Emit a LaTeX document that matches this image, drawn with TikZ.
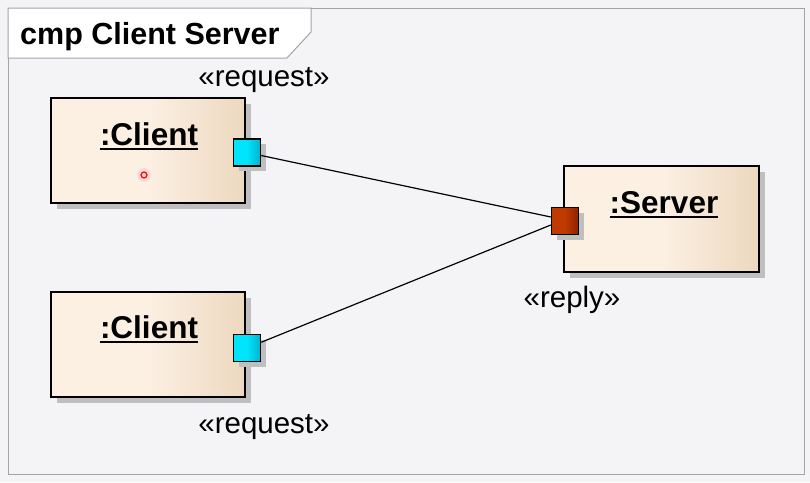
\documentclass[tikz,border=0pt]{standalone}
\usepackage{fontspec}
\setmainfont{Liberation Sans}
\usetikzlibrary{shadows}
\definecolor{bglight}{HTML}{F4F4F6}
\definecolor{framegray}{HTML}{A4A4A8}
\definecolor{boxlight}{HTML}{FCF0E3}
\definecolor{boxdark}{HTML}{EDD8BF}
\definecolor{portcyan}{HTML}{00E4FC}
\definecolor{portcyandark}{HTML}{00B4CC}
\definecolor{portbrown}{HTML}{C03A00}
\definecolor{portbrowndark}{HTML}{8C2200}

\begin{document}
\begin{tikzpicture}[x=1pt,y=-1pt,
    objbox/.style={draw=black,line width=1.6pt,inner sep=0pt,
      shading=axis,left color=boxlight,right color=boxdark,middle color=boxlight,
      general shadow={fill=black!25,shadow xshift=6pt,shadow yshift=-6pt}},
    objlabel/.style={inner sep=0pt,font=\fontsize{31.5}{35}\selectfont\bfseries},
    uline/.style={line width=1.8pt},
    port/.style={draw=black,line width=1.4pt,inner sep=0pt,minimum size=27pt,
      general shadow={fill=black!25,shadow xshift=5pt,shadow yshift=-5pt}},
    stereo/.style={inner sep=0pt,font=\fontsize{29.5}{33}\selectfont},
    link/.style={line width=1.2pt}]
      \fill[bglight] (0,0) rectangle (810,482);
      \useasboundingbox (0,0) rectangle (810,482);
      % frame and title tab
      \draw[framegray,line width=1pt] (8,8) rectangle (804,474);
      \draw[framegray,line width=1pt,fill=white] (8,8) -- (311,8) -- (311,32) -- (287,58) -- (8,58) -- cycle;
      \node[inner sep=0pt,anchor=base west,font=\fontsize{30.5}{34}\selectfont\bfseries] (title) at (20,44) {cmp Client Server};
      % parts
      \node[objbox,minimum width=194pt,minimum height=105pt] (clientA) at (148,150.5) {};
      \node[objbox,minimum width=194pt,minimum height=105pt] (clientB) at (148,344.5) {};
      \node[objbox,minimum width=195pt,minimum height=106pt] (server) at (661.5,219) {};
      \node[objlabel,anchor=base] (clientAlbl) at (149,145) {:Client};
      \node[objlabel,anchor=base] (clientBlbl) at (149,338) {:Client};
      \node[objlabel,anchor=base] (serverlbl) at (664,213) {:Server};
      \draw[uline] ([yshift=-3.5pt]clientAlbl.south west) -- ([yshift=-3.5pt]clientAlbl.south east);
      \draw[uline] ([yshift=-3.5pt]clientBlbl.south west) -- ([yshift=-3.5pt]clientBlbl.south east);
      \draw[uline] ([yshift=-3.5pt]serverlbl.south west) -- ([yshift=-3.5pt]serverlbl.south east);
      % ports
      \node[port,shading=axis,left color=portcyan,right color=portcyandark,middle color=portcyan] (reqA) at (247,152.5) {};
      \node[port,shading=axis,left color=portcyan,right color=portcyandark,middle color=portcyan] (reqB) at (247,348) {};
      \node[port,shading=axis,left color=portbrown,right color=portbrowndark,middle color=portbrown] (rep) at (565,221) {};
      \draw[link] (reqA) -- ([yshift=4pt]rep.west);
      \draw[link] (reqB) -- ([yshift=-4pt]rep.west);
      % stereotypes
      \node[stereo] (reqAst) at (264,80) {«request»};
      \node[stereo] (reqBst) at (264,427) {«request»};
      \node[stereo] (repst) at (572,300) {«reply»};
      % pointer mark
      \fill[red!15] (144,175) circle (7pt);
      \draw[red,line width=1.2pt] (144,175) circle (3pt);
    \end{tikzpicture}
\end{document}
